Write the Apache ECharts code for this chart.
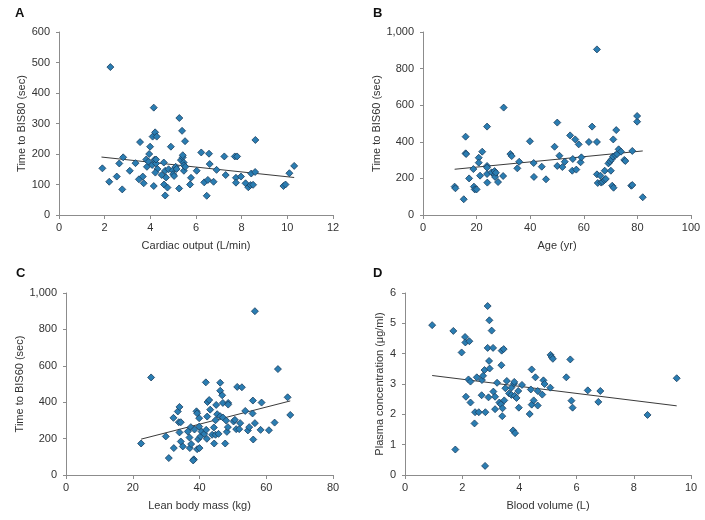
<!DOCTYPE html>
<html>
<head>
<meta charset="utf-8">
<script src="https://cdn.jsdelivr.net/npm/echarts@6/dist/echarts.min.js"></script>
<style>html,body{margin:0;padding:0;background:#fff}#c{width:705px;height:520px}</style>
</head>
<body>
<div id="c"></div>
<script>
// Panel A: Cardiac output vs Time to BIS80
const aX = [1.9,2.2,2.25,2.53,2.64,2.77,2.81,3.1,3.35,3.5,3.55,3.67,3.71,3.82,3.85,3.92,3.95,3.99,4.08,4.1,4.15,4.15,4.18,4.21,4.25,4.28,4.25,4.31,4.22,4.5,4.59,4.6,4.65,4.65,4.69,4.75,4.8,4.9,4.98,5.0,5.04,5.11,5.15,5.26,5.27,5.34,5.39,5.42,5.42,5.46,5.47,5.47,5.52,5.53,5.74,5.78,6.03,6.23,6.36,6.47,6.52,6.57,6.6,6.77,6.9,7.24,7.3,7.7,7.8,7.75,7.75,7.97,8.17,8.29,8.39,8.42,8.5,8.59,8.6,9.83,9.92,10.09,10.3];
const aY = [153,109,485,126,169,84,189,145,170,117,239,126,104,182,158,175,200,224,164,257,352,95,181,271,169,257,182,151,139,131,172,100,145,64,123,90,150,224,146,134,128,158,151,87,318,180,276,189,196,172,145,163,242,158,100,122,145,205,107,63,115,201,167,109,148,192,131,192,192,122,106,126,104,91,98,136,99,141,246,95,100,137,161];
const regAX = [1.86, 10.3];
const regAY = [190, 123];

// Panel B: Age vs Time to BIS60
const bX = [11.8,12.1,15.2,15.9,15.9,16.1,17.2,18.8,19.0,19.3,20,20.8,20.8,21.3,22.1,23.9,23.9,23.9,23.9,24.0,25.6,26.7,26.7,26.9,27.2,28.0,29.9,30.1,32.6,33.1,35.9,35.2,39.9,41.3,41.4,44.3,45.9,49.1,50.1,50.1,50.9,52,52.9,54.9,55.9,55.7,56.8,57.2,58.1,58.8,59.1,61.9,63.1,64.9,64.9,64.9,65.2,66.2,66.5,67.0,67.7,68.2,67.8,69.2,69.8,70.1,70.4,70.9,70.6,71.1,71.0,71.8,72.1,72.4,73,73.9,75.1,75.5,77.7,78.1,78.1,79.9,79.9,82.0];
const bY = [155,146,86,428,337,333,200,251,155,140,140,313,286,215,346,483,268,259,224,177,233,240,219,208,231,180,213,587,333,322,291,255,403,284,208,264,195,373,505,268,324,262,291,435,306,242,413,248,386,288,315,399,483,399,905,222,175,215,177,182,191,197,242,282,293,242,304,319,160,149,413,326,464,333,359,346,301,295,160,164,350,510,541,97];
const regBX = [11.8, 82];
const regBY = [250, 350];

// Panel C: Lean body mass vs Time to BIS60
const cX = [22.5,25.5,29.9,30.8,32.2,32.3,33.5,33.8,34.0,34.0,34.4,34.4,35.0,36.5,37.0,37.1,37.4,37.5,38.3,38.5,39.1,39.3,39.3,39.6,39.9,40.0,39.9,40.3,40.6,41.4,41.9,42.0,42.2,42.3,42.4,42.9,43.2,43.8,44.3,44.4,44.8,44.8,45.0,45.3,45.7,46.2,46.2,46.2,46.8,47.0,47.0,47.7,48.0,48.2,48.6,48.6,48.5,50.2,50.6,51.0,51.3,51.9,52.2,52.7,53.7,54.5,54.9,55.9,56.0,56.1,56.6,56.6,58.3,58.6,60.8,62.5,63.5,66.4,67.2,38.1];
const cY = [173,536,212,93,314,148,349,290,374,234,290,184,157,239,206,148,263,170,86,250,350,339,142,197,312,148,266,212,239,226,509,248,199,321,401,412,359,221,261,173,301,221,385,334,226,507,463,323,438,316,396,173,299,237,396,387,263,294,303,252,484,252,285,482,352,245,263,338,409,195,285,900,248,398,246,288,582,427,330,80];
const regCX = [22.5, 67.2];
const regCY = [197, 407];

// Panel D: Blood volume vs Plasma concentration
const dX = [0.95,1.69,1.76,1.98,2.1,2.11,2.25,2.13,2.22,2.29,2.29,2.43,2.45,2.51,2.58,2.68,2.69,2.73,2.78,2.80,2.81,2.89,2.89,2.92,2.94,2.95,2.96,3.03,3.08,3.09,3.15,3.15,3.22,3.30,3.35,3.37,3.38,3.40,3.41,3.45,3.47,3.51,3.56,3.64,3.72,3.72,3.78,3.81,3.82,3.83,3.85,3.90,3.96,3.98,4.09,4.36,4.40,4.43,4.43,4.5,4.56,4.64,4.64,4.80,4.84,4.88,5.08,5.09,5.13,5.17,5.64,5.78,5.82,5.86,6.39,6.76,6.83,8.48,9.5];
const dY = [4.94,4.75,0.84,4.04,4.55,4.37,4.41,2.58,3.15,3.08,2.39,1.70,2.07,3.22,2.07,2.63,3.13,3.27,3.46,0.30,2.07,5.57,4.19,2.56,3.76,5.10,3.51,4.76,4.19,2.75,2.58,2.17,3.04,2.39,2.33,3.62,4.10,1.94,2.2,4.15,2.46,2.86,3.10,2.69,2.88,2.64,1.47,3.01,3.07,2.61,1.38,2.54,2.77,2.22,2.97,2.01,2.82,3.48,2.32,2.46,3.22,2.29,2.77,2.65,3.12,3.0,2.88,3.96,3.89,3.83,3.22,3.81,2.45,2.22,2.79,2.41,2.77,1.98,3.19];
const regDX = [0.95, 9.5];
const regDY = [3.28, 2.28];

const panelLetters = ['A','B','C','D'];
const xNames = ['Cardiac output (L/min)','Age (yr)','Lean body mass (kg)','Blood volume (L)'];
const yNames = ['Time to BIS80 (sec)','Time to BIS60 (sec)','Time to BIS60 (sec)','Plasma concentration (\u03bcg/ml)'];
const xMax = [12, 100, 80, 10];
const xInterval = [2, 20, 20, 2];
const yMax = [600, 1000, 1000, 6];
const yInterval = [100, 200, 200, 1];

const FONT = '"Liberation Sans", Arial, sans-serif';
const zip = (xs, ys) => xs.map((x, i) => [x, ys[i]]);
const points = [zip(aX,aY), zip(bX,bY), zip(cX,cY), zip(dX,dY)];
const regs = [zip(regAX,regAY), zip(regBX,regBY), zip(regCX,regCY), zip(regDX,regDY)];

const grids = [
  {left: 59, top: 32, width: 274, height: 183},
  {left: 423, top: 32, width: 268, height: 183},
  {left: 66, top: 293, width: 267, height: 182},
  {left: 405, top: 293, width: 286, height: 182}
];
const yNameGap = [32, 40, 40, 20];
const letterPos = [[15, 7], [373, 7], [16, 267], [373, 267]];

const axisLine = {show: true, lineStyle: {color: '#8c8c8c', width: 1}};
const fmt = v => v >= 1000 ? v.toLocaleString('en-US') : String(v);

const option = {
  animation: false,
  backgroundColor: '#fff',
  grid: grids,
  xAxis: grids.map((g, i) => ({
    gridIndex: i, type: 'value', min: 0, max: xMax[i], interval: xInterval[i],
    name: xNames[i], nameLocation: 'middle', nameGap: 25,
    nameTextStyle: {fontFamily: FONT, fontSize: 11, color: '#333'},
    axisLine: axisLine,
    axisTick: {show: true, length: 4, lineStyle: {color: '#8c8c8c'}},
    axisLabel: {fontFamily: FONT, fontSize: 11, color: '#333', margin: 7},
    splitLine: {show: false}
  })),
  yAxis: grids.map((g, i) => ({
    gridIndex: i, type: 'value', min: 0, max: yMax[i], interval: yInterval[i],
    name: yNames[i], nameLocation: 'middle', nameGap: yNameGap[i],
    nameTextStyle: {fontFamily: FONT, fontSize: 11, color: '#333'},
    axisLine: axisLine,
    axisTick: {show: true, length: 3, lineStyle: {color: '#8c8c8c'}},
    axisLabel: {fontFamily: FONT, fontSize: 11, color: '#333', margin: 9, formatter: fmt},
    splitLine: {show: false}
  })),
  series: [].concat(
    regs.map((r, i) => ({
      type: 'line', xAxisIndex: i, yAxisIndex: i, data: r, symbol: 'none', z: 1,
      lineStyle: {color: '#3a3a3a', width: 1}, silent: true
    })),
    points.map((p, i) => ({
      type: 'scatter', xAxisIndex: i, yAxisIndex: i, data: p, symbol: 'diamond', symbolSize: 7, z: 2,
      itemStyle: {color: '#2a7db2', borderColor: '#1b3f5f', borderWidth: 0.8, opacity: 1}
    }))
  ),
  graphic: panelLetters.map((t, i) => ({
    type: 'text', left: letterPos[i][0], top: letterPos[i][1],
    style: {text: t, font: 'bold 13px ' + FONT, fill: '#111'}
  }))
};

const chart = echarts.init(document.getElementById('c'), null, {renderer: 'canvas'});
chart.setOption(option);
</script>
</body>
</html>
